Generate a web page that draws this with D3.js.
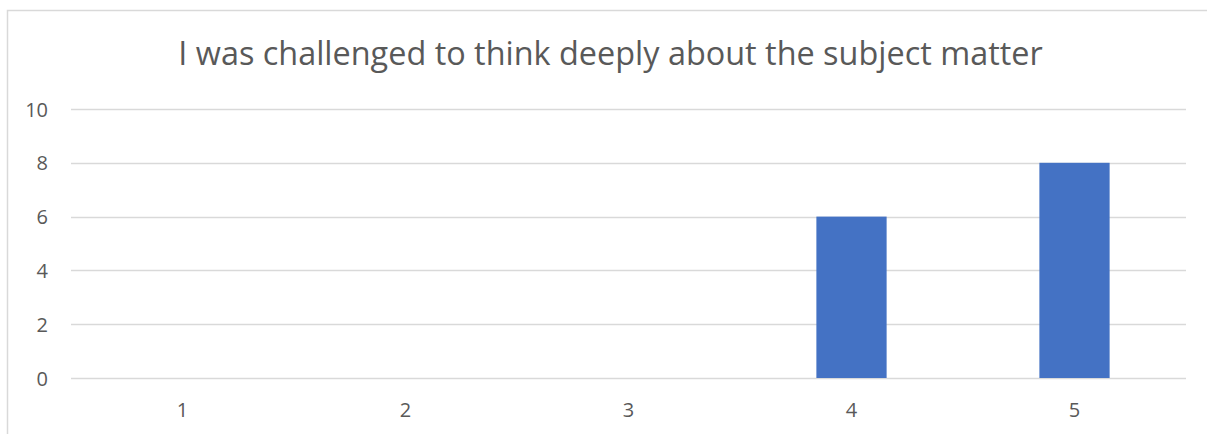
<!DOCTYPE html>
<html><head><meta charset="utf-8">
<script src="https://cdn.jsdelivr.net/npm/d3@7"></script>
<style>body{margin:0;background:#fff}svg{display:block}text{font-family:"Open Sans",sans-serif;fill:#595959}</style>
</head><body>
<script>
const categories = ["1","2","3","4","5"];
const values = [0,0,0,6,8];
const yTicks = [0,2,4,6,8,10];
const title = "I was challenged to think deeply about the subject matter";

const W=1207,H=434;
const svg=d3.select("body").append("svg").attr("width",W).attr("height",H);
svg.append("rect").attr("x",7.5).attr("y",10.5).attr("width",W+10).attr("height",H+10)
  .attr("fill","#fff").attr("stroke","#d9d9d9").attr("stroke-width",1.5);

const x=d3.scaleBand().domain(categories).range([71,1186]).paddingInner(0.685).paddingOuter(0.3425);
const y=d3.scaleLinear().domain([0,10]).range([378,109]);

svg.append("g").selectAll("line").data(yTicks).join("line")
  .attr("x1",71).attr("x2",1186).attr("y1",d=>Math.round(y(d))+0.5).attr("y2",d=>Math.round(y(d))+0.5)
  .attr("stroke","#d9d9d9").attr("stroke-width",1.5);

svg.append("g").selectAll("text").data(yTicks).join("text")
  .attr("x",48).attr("y",d=>y(d)+7.5).attr("text-anchor","end").attr("font-size",20).text(d=>d);

svg.append("g").selectAll("rect").data(values).join("rect")
  .attr("x",(d,i)=>x(categories[i])).attr("width",x.bandwidth())
  .attr("y",d=>y(d)).attr("height",d=>y(0)-y(d)).attr("fill","#4472c4");

svg.append("g").selectAll("text").data(categories).join("text")
  .attr("x",d=>x(d)+x.bandwidth()/2).attr("y",417).attr("text-anchor","middle").attr("font-size",20).text(d=>d);

const t=svg.append("text").attr("x",610.5).attr("y",65).attr("text-anchor","middle").attr("font-size",32).text(title);
const len=t.node().getComputedTextLength();
t.attr("font-size",32*865/len);
</script>
</body></html>
